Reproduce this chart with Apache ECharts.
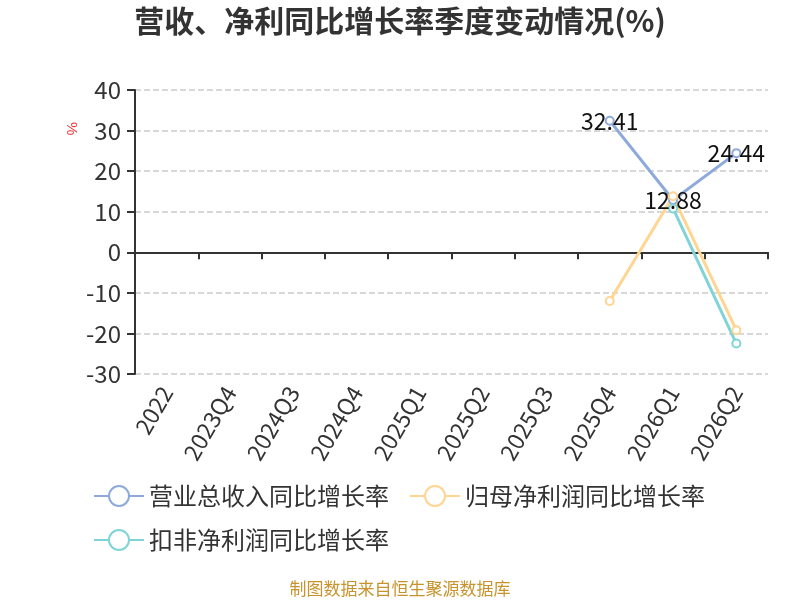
<!DOCTYPE html>
<html>
<head>
<meta charset="utf-8">
<script src="https://cdn.jsdelivr.net/npm/echarts@6/dist/echarts.min.js"></script>
<style>
html, body { margin: 0; padding: 0; background: #fff; }
#main { width: 800px; height: 600px; }
</style>
</head>
<body>
<div id="main"></div>
<script>
var myChart = echarts.init(document.getElementById('main'));

var categories = ['2022', '2023Q4', '2024Q3', '2024Q4', '2025Q1', '2025Q2', '2025Q3', '2025Q4', '2026Q1', '2026Q2'];
var seriesNames = ['营业总收入同比增长率', '归母净利润同比增长率', '扣非净利润同比增长率'];
var revenue = [null, null, null, null, null, null, null, 32.41, 12.88, 24.44];
var netProfit = [null, null, null, null, null, null, null, -12.0, 13.8, -19.2];
var deductedProfit = [null, null, null, null, null, null, null, null, 10.8, -22.5];
var yTicks = { min: -30, max: 40, interval: 10 };

var colors = ['#8eaadb', '#ffd591', '#80d4d8'];
var font = '"Noto Sans CJK SC", "Noto Sans", sans-serif';

function lineSeries(name, data, color, showLabel) {
    return {
        name: name,
        type: 'line',
        data: data,
        symbol: 'emptyCircle',
        symbolSize: 8,
        connectNulls: false,
        lineStyle: { width: 3, color: color },
        itemStyle: { color: color, borderWidth: 2 },
        label: {
            show: showLabel,
            position: 'inside',
            color: '#111',
            fontSize: 23,
            fontFamily: font,
            formatter: function (p) { return p.value == null ? '' : p.value.toFixed(2); }
        }
    };
}

option = {
    backgroundColor: '#fff',
    textStyle: { fontFamily: font },
    title: {
        text: '营收、净利同比增长率季度变动情况(%)',
        left: 'center',
        top: 1,
        textStyle: { fontSize: 30, fontWeight: 'bold', color: '#333', fontFamily: font }
    },
    grid: {
        left: 135,
        right: 32,
        top: 90,
        bottom: 226
    },
    legend: {
        left: 88,
        right: 40,
        top: 479,
        itemWidth: 50,
        itemHeight: 25,
        itemGap: 20,
        textStyle: { fontSize: 24, color: '#333', fontFamily: font },
        data: seriesNames
    },
    graphic: [
        {
            type: 'text',
            left: 64,
            top: 122,
            rotation: -Math.PI / 2,
            style: { text: '%', fill: '#e33', fontSize: 15 }
        },
        {
            type: 'text',
            left: 'center',
            top: 580,
            style: { text: '制图数据来自恒生聚源数据库', fill: '#c8932c', fontSize: 17, fontFamily: font }
        }
    ],
    xAxis: {
        type: 'category',
        data: categories,
        boundaryGap: true,
        axisLine: { onZero: true, lineStyle: { color: '#333', width: 2 } },
        axisTick: { show: true, length: 7, lineStyle: { color: '#333', width: 2 } },
        axisLabel: {
            rotate: 60,
            fontSize: 23,
            color: '#333',
            interval: 0,
            margin: 14
        }
    },
    yAxis: {
        type: 'value',
        min: yTicks.min,
        max: yTicks.max,
        interval: yTicks.interval,
        axisLine: { show: true, lineStyle: { color: '#333', width: 2 } },
        axisTick: { show: true, length: 8, lineStyle: { color: '#333', width: 2 } },
        axisLabel: { fontSize: 24, color: '#333', margin: 14 },
        splitLine: { lineStyle: { color: '#ccc', type: 'dashed', width: 1.5 } }
    },
    series: [
        lineSeries(seriesNames[0], revenue, colors[0], true),
        lineSeries(seriesNames[1], netProfit, colors[1], false),
        lineSeries(seriesNames[2], deductedProfit, colors[2], false)
    ]
};
myChart.setOption(option);
</script>
</body>
</html>
